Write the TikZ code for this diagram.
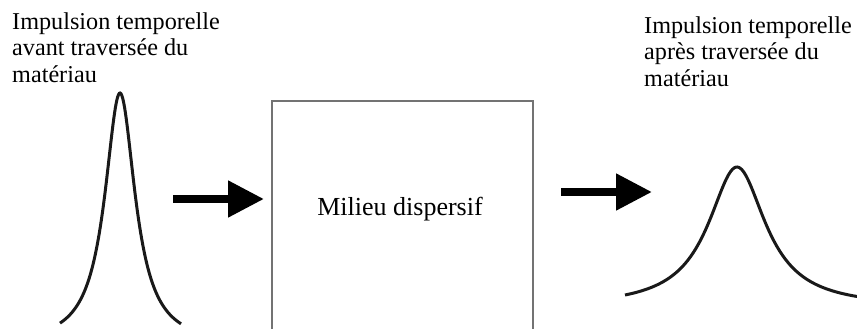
\documentclass[tikz,border=0pt]{standalone}
\usepackage{fontspec}
\setmainfont{Liberation Serif}
\usetikzlibrary{arrows.meta}
\usetikzlibrary{positioning}

\begin{document}
\begin{tikzpicture}[x=1pt,y=-1pt,
	pulse/.style={line width=3pt,black!90},
	flow/.style={line width=8pt,-{Triangle[length=36pt,width=35pt]}},
	caption/.style={align=left,inner sep=0pt,anchor=base west,font=\fontsize{24.2}{26.5}\selectfont}]
			\useasboundingbox (0,0) rectangle (857,329);
			%captions (base = last line)
			\node[caption] (before) at (12,82) {Impulsion temporelle\\avant traversée du\\matériau};
			\node[caption] (after) at (644,86) {Impulsion temporelle\\après traversée du\\matériau};
			%dispersive medium, open at the bottom
			\coordinate (box_sw) at (272,329);
			\coordinate (box_nw) at (272,101);
			\coordinate (box_ne) at (533,101);
			\coordinate (box_se) at (533,329);
			\draw[black!55,line width=2pt] (box_sw)--(box_nw)--(box_ne)--(box_se);
			\node[font=\fontsize{26}{28}\selectfont,anchor=base] (medium) at (400,215) {Milieu dispersif};
			%pulse before and after
			\draw[pulse,domain=60:181,samples=150,smooth,variable=\x] plot({\x},{345-252/(1+((\x-120)/18.5)^2)});
			\draw[pulse,domain=625:857,samples=150,smooth,variable=\x] plot({\x},{307.5-140.5/(1+((\x-737)/35)^2)});
			%arrows
			\coordinate (in_tail) at (173,199);
			\coordinate (in_head) at (264,199);
			\coordinate (out_tail) at (561,192);
			\coordinate (out_head) at (652,192);
			\draw[flow] (in_tail)--(in_head);
			\draw[flow] (out_tail)--(out_head);
		\end{tikzpicture}
\end{document}
